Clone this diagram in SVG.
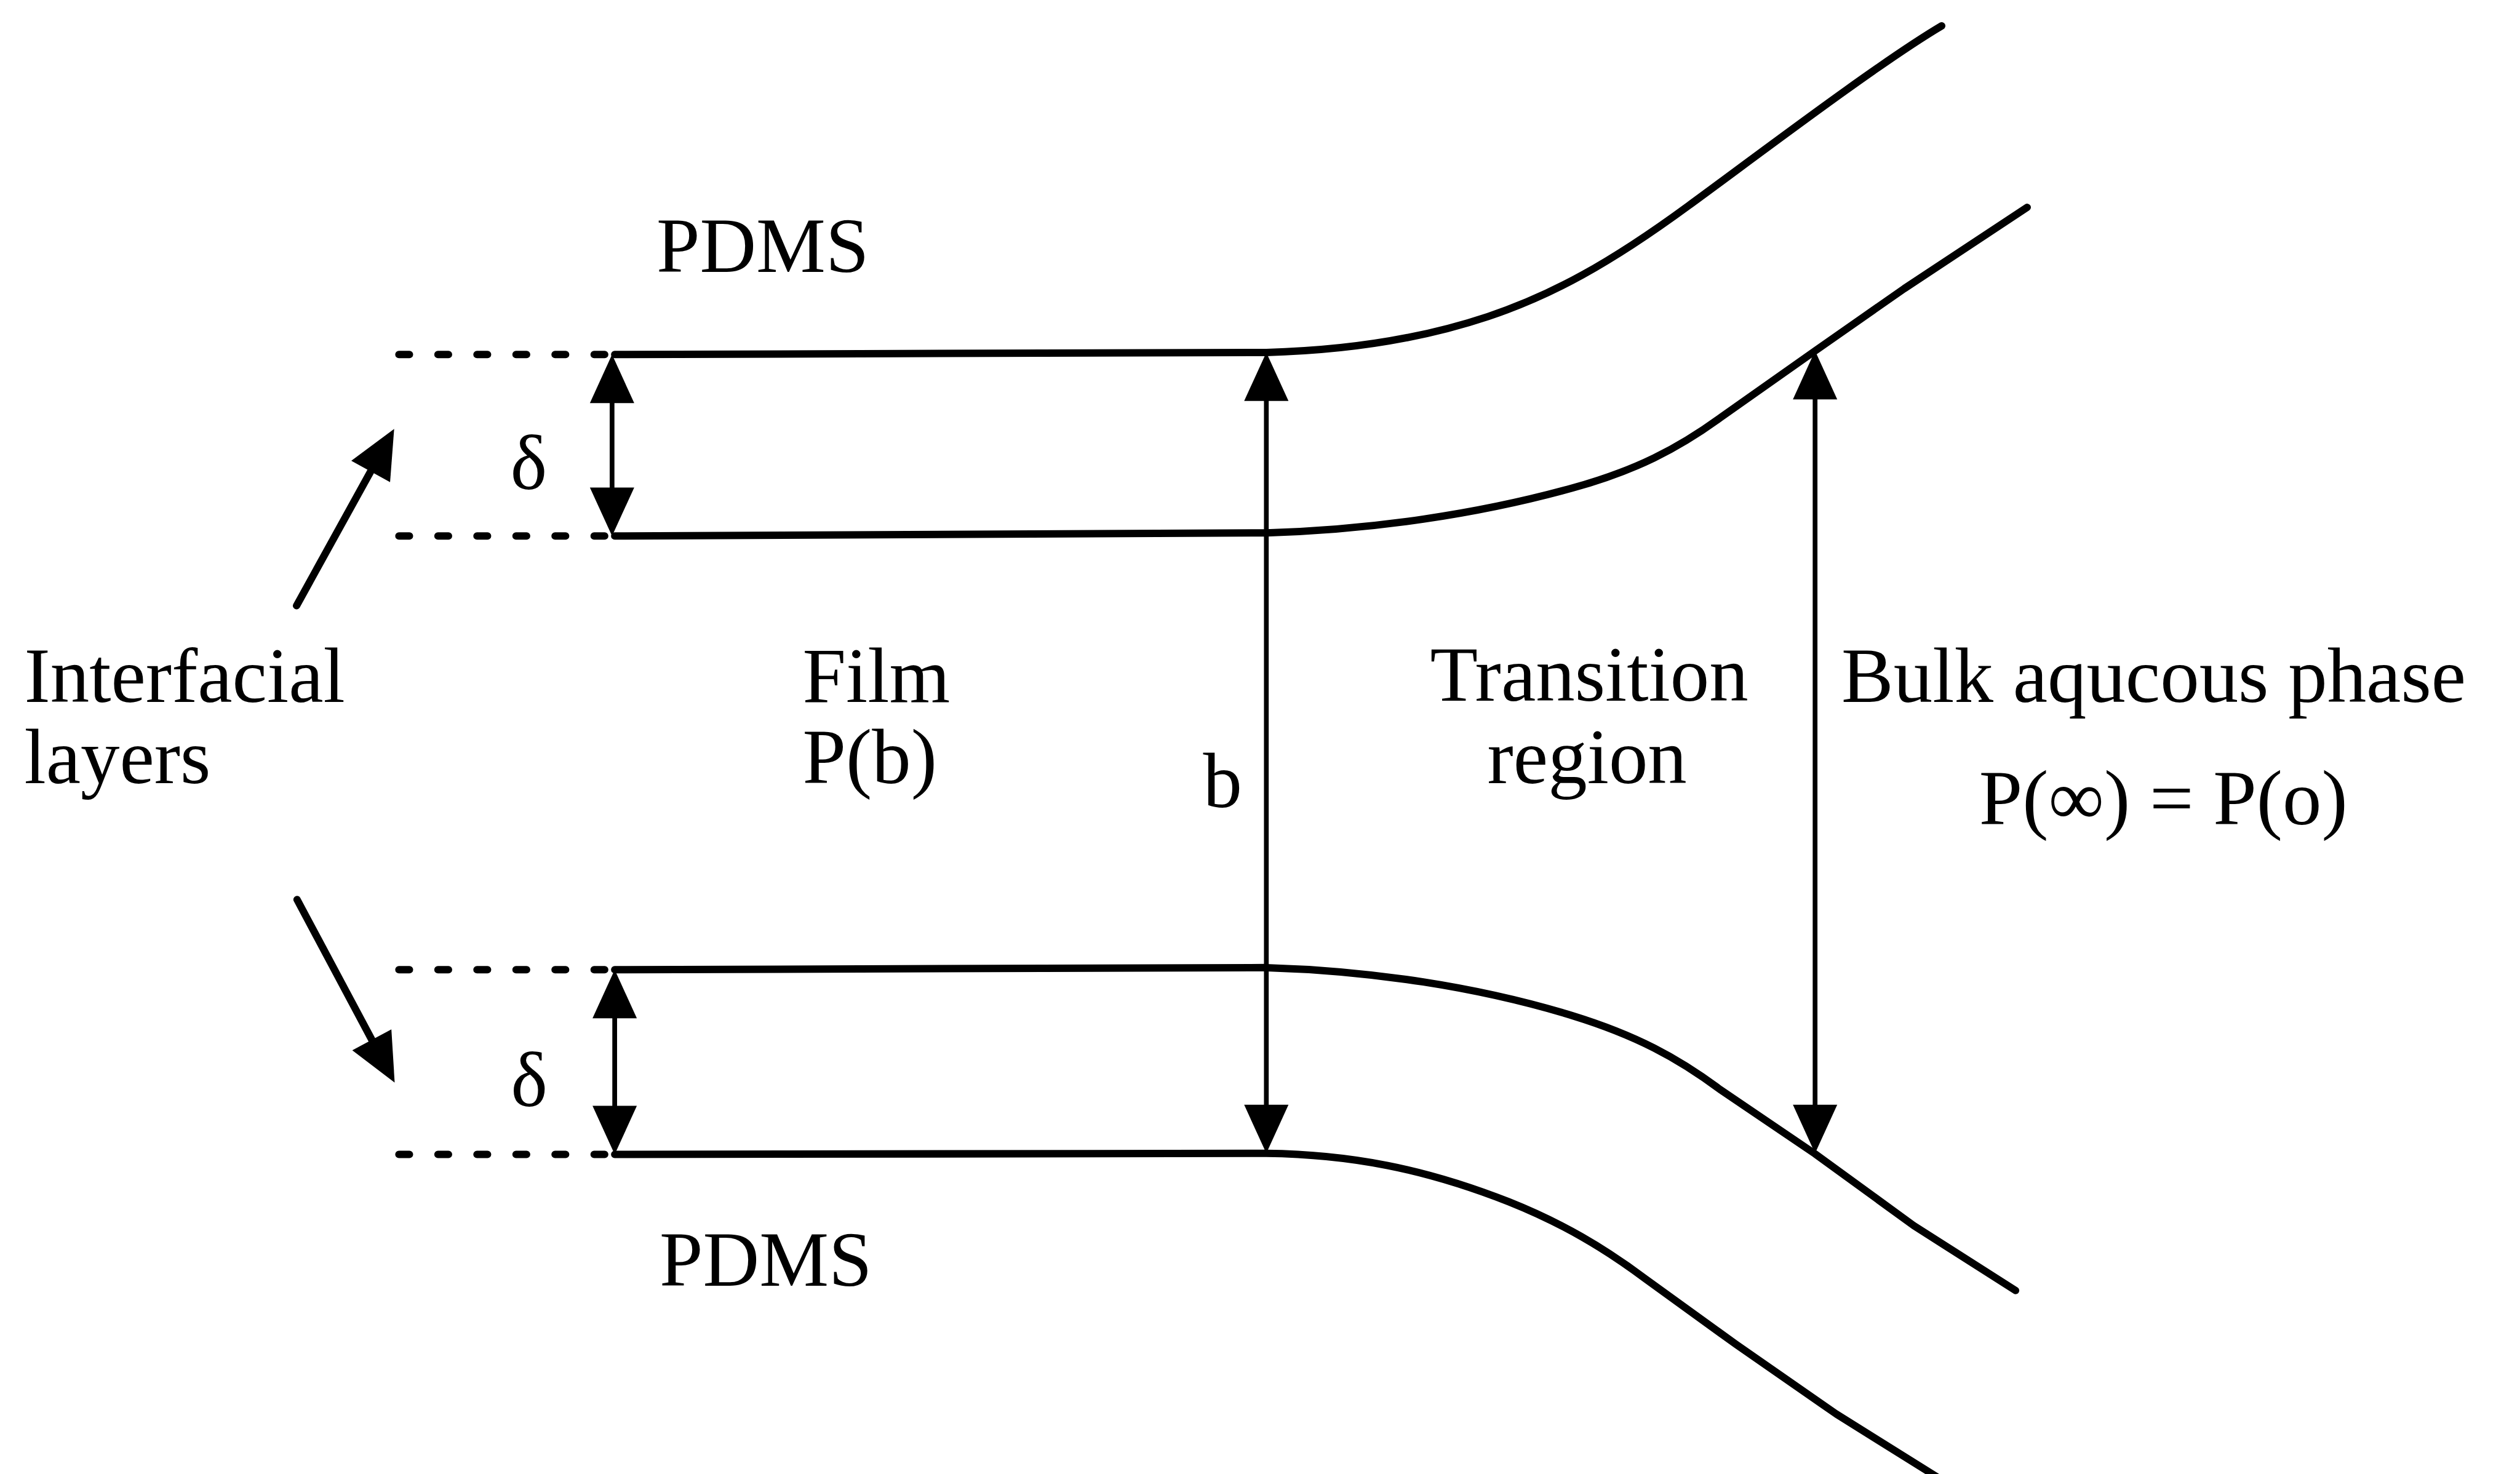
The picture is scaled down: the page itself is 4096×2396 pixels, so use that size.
<svg xmlns="http://www.w3.org/2000/svg" width="4096" height="2396" viewBox="0 0 4096 2396">
<style>
  .bound { fill: none; stroke: #000; stroke-width: 14; stroke-linejoin: round; stroke-linecap: round; }
  .dash { fill: none; stroke: #000; stroke-width: 14; stroke-linecap: round; stroke-dasharray: 20 54; }
  .dim { fill: none; stroke: #000; stroke-width: 9; marker-start: url(#ah); marker-end: url(#ah); }
  .lead { fill: none; stroke: #000; stroke-width: 14; stroke-linecap: round; marker-end: url(#ah); }
  text { font-family: "Liberation Serif", "Times New Roman", serif; font-size: 148px; fill: #000; }
</style>
<defs>
  <marker id="ah" markerUnits="userSpaceOnUse" viewBox="-70 -45 105 90" markerWidth="105" markerHeight="90" refX="0" refY="0" orient="auto-start-reverse" overflow="visible">
    <path d="M30,0 L-62,-42 L-62,42 Z" fill="#000"/>
  </marker>
</defs>
<rect width="4096" height="2396" fill="#fff"/>
<g transform="scale(0.857621)">
  <g id="boundaries">
    <path class="bound" d="M1165,672 L2400,668 C2560,664 2700,640 2820,600 C2940,560 3050,500 3200,390 C3330,295 3560,120 3680,49"/>
    <path class="bound" d="M1165,1016 L2400,1010 C2600,1004 2800,975 2980,925 C3100,892 3180,850 3260,792 L3440,665 L3609,547 L3842,393"/>
    <path class="bound" d="M1165,1838 L2400,1834 C2600,1840 2800,1870 2980,1925 C3100,1962 3180,2005 3260,2065 L3440,2187 L3627,2323 L3820,2446"/>
    <path class="bound" d="M1165,2188 L2400,2186 C2560,2188 2700,2215 2860,2278 C2960,2318 3040,2365 3120,2425 L3290,2548 L3480,2680 L3720,2830"/>
  </g>
  <g id="dashed-extensions">
    <path class="dash" d="M756,672 H1160"/>
    <path class="dash" d="M756,1016 H1160"/>
    <path class="dash" d="M756,1838 H1160"/>
    <path class="dash" d="M756,2188 H1160"/>
  </g>
  <g id="connectors">
    <path class="dim" d="M1160,702 V986"/>
    <path class="dim" d="M1165,1868 V2158"/>
    <path class="dim" d="M2400,698 V2156"/>
    <path class="dim" d="M3440,695 V2156"/>
    <path class="lead" d="M562,1148 L732.5,839.3"/>
    <path class="lead" d="M563,1705 L733.9,2025.5"/>
  </g>
  <g id="label-pdms-top"><text x="1244" y="515">PDMS</text></g>
  <g id="label-delta-top"><text x="1002" y="927" text-anchor="middle">δ</text></g>
  <g id="label-interfacial"><text x="46" y="1330">Interfacial</text><text x="46" y="1484">layers</text></g>
  <g id="label-film"><text x="1521" y="1330">Film</text><text x="1521" y="1484">P(b)</text></g>
  <g id="label-b"><text x="2280" y="1530">b</text></g>
  <g id="label-transition"><text x="3012" y="1328" text-anchor="middle">Transition</text><text x="3008" y="1484" text-anchor="middle">region</text></g>
  <g id="label-bulk"><text x="3490" y="1330">Bulk aqucous phase</text><text x="4100" y="1562" text-anchor="middle">P(∞) = P(o)</text></g>
  <g id="label-delta-bottom"><text x="1003" y="2096" text-anchor="middle">δ</text></g>
  <g id="label-pdms-bottom"><text x="1250" y="2437">PDMS</text></g>
</g>
</svg>
